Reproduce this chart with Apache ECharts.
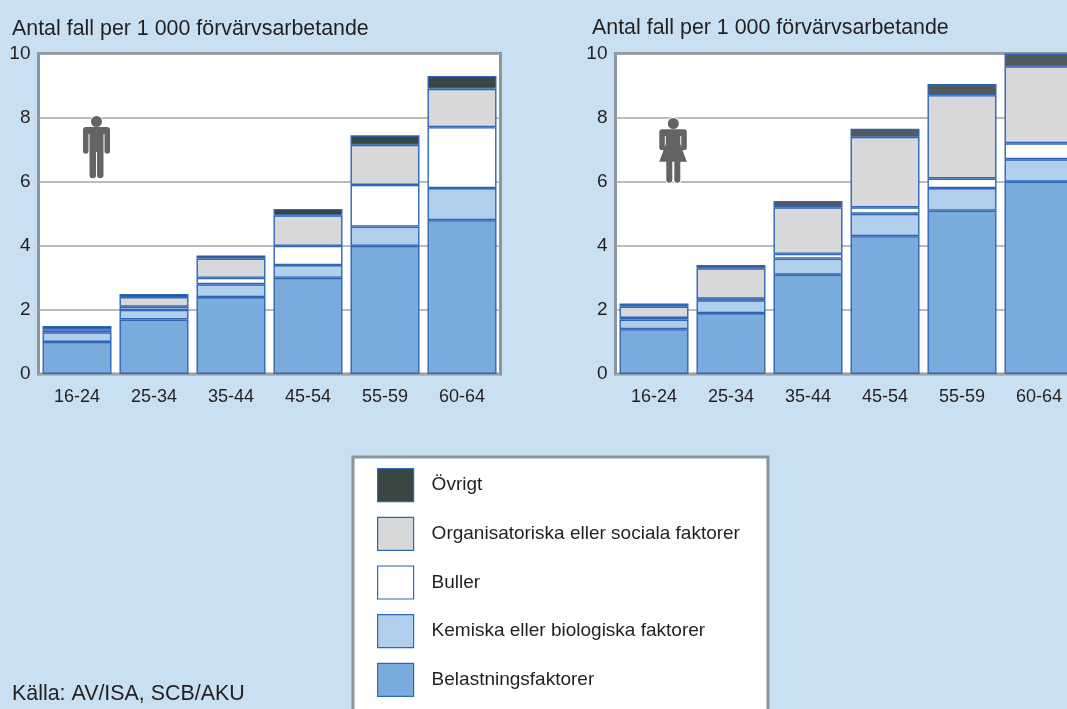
<!DOCTYPE html>
<html>
<head>
<meta charset="utf-8">
<title>Antal fall per 1 000 förvärvsarbetande</title>
<script src="https://cdn.jsdelivr.net/npm/echarts@6/dist/echarts.min.js"></script>
<style>
  html, body { margin: 0; padding: 0; background: #c9dff2; overflow: hidden; }
  #chart { width: 1067px; height: 709px; }
</style>
</head>
<body>
<div id="chart"></div>
<script>
const ageGroups = ['16-24', '25-34', '35-44', '45-54', '55-59', '60-64']
const yTicks = [0, 2, 4, 6, 8, 10]
const yAxisTitle = 'Antal fall per 1 000 förvärvsarbetande'
const sourceText = 'Källa: AV/ISA, SCB/AKU'

const seriesNames = ['Belastningsfaktorer', 'Kemiska eller biologiska faktorer', 'Buller', 'Organisatoriska eller sociala faktorer', 'Övrigt']

const menBelastning = [1.0, 1.7, 2.4, 3.0, 4.0, 4.8]
const menKemiska = [0.3, 0.3, 0.4, 0.4, 0.6, 1.0]
const menBuller = [0.05, 0.1, 0.2, 0.6, 1.3, 1.9]
const menOrganisatoriska = [0.05, 0.3, 0.6, 0.95, 1.25, 1.2]
const menOvrigt = [0.1, 0.1, 0.1, 0.2, 0.3, 0.4]

const womenBelastning = [1.4, 1.9, 3.1, 4.3, 5.1, 6.0]
const womenKemiska = [0.3, 0.4, 0.5, 0.7, 0.7, 0.7]
const womenBuller = [0.05, 0.05, 0.15, 0.2, 0.3, 0.5]
const womenOrganisatoriska = [0.35, 0.95, 1.45, 2.2, 2.6, 2.4]
const womenOvrigt = [0.1, 0.1, 0.2, 0.25, 0.35, 0.4]

const menColors = ['#79abdc', '#b0cfec', '#ffffff', '#d7d8da', '#3a4644']
const womenColors = ['#79abdc', '#b0cfec', '#ffffff', '#d7d8da', '#54595b']
const textColor = '#231f20'
const fontFamily = '"Liberation Sans", Arial, sans-serif'

// pictograms for the two panels
echarts.graphic.registerShape('manIcon', echarts.graphic.extendPath('M13.5 0a5.500 5.500 0 1 1 0 11a5.500 5.500 0 1 1 0 -11z M3 11H24a3 3 0 0 1 3 3V35a2.750 2.750 0 0 1 -5.500 0V18H20.500V59a3.250 3.250 0 0 1 -6.500 0V36H13V59a3.250 3.250 0 0 1 -6.500 0V18H5.500V35a2.750 2.750 0 0 1 -5.500 0V14a3 3 0 0 1 3 -3z'))
echarts.graphic.registerShape('womanIcon', echarts.graphic.extendPath('M14 0a5.500 5.500 0 1 1 0 11a5.500 5.500 0 1 1 0 -11z M3 11.300H24.500a3 3 0 0 1 3 3V29.500a2.750 2.750 0 0 1 -5.500 0V18H21V26L27.500 43.700H21V61.700a3 3 0 0 1 -6 0V43.700H13V61.700a3 3 0 0 1 -6 0V43.700H0L6.500 26V18H5.500V29.500a2.750 2.750 0 0 1 -5.500 0V14.300a3 3 0 0 1 3 -3z'))

const makeSeries = (rows, colors, index) => rows.map((row, i) => ({
  name: seriesNames[i],
  type: 'bar',
  stack: 'panel' + index,
  xAxisIndex: index,
  yAxisIndex: index,
  barWidth: 69,
  data: row,
  itemStyle: { color: colors[i], borderColor: '#2f66b5', borderWidth: 1.4 }
}))

const makeXAxis = (index) => ({
  type: 'category',
  gridIndex: index,
  data: ageGroups,
  axisLine: { show: false },
  axisTick: { show: false },
  axisLabel: { color: textColor, fontSize: 18, fontFamily, margin: 14 }
})

const makeYAxis = (index) => ({
  type: 'value',
  gridIndex: index,
  min: yTicks[0],
  max: yTicks[yTicks.length - 1],
  interval: 2,
  axisLine: { show: false },
  axisTick: { show: false },
  axisLabel: { color: textColor, fontSize: 19, fontFamily, margin: 8 },
  splitLine: { lineStyle: { color: '#a3a5a7', width: 1.5 } }
})

const gridBase = {
  show: true,
  outerBoundsMode: 'none',
  top: 53.5,
  height: 320.5,
  width: 462,
  backgroundColor: '#ffffff',
  borderColor: '#8b959b',
  borderWidth: 3
}
const titleStyle = { color: textColor, fontSize: 21.4, fontWeight: 'normal', fontFamily }

const chart = echarts.init(document.getElementById('chart'), null, { renderer: 'canvas' })
chart.setOption({
  animation: false,
  backgroundColor: '#c9dff2',
  textStyle: { fontFamily },
  title: [
    { text: yAxisTitle, left: 7, top: 14, textStyle: titleStyle },
    { text: yAxisTitle, left: 587, top: 13, textStyle: titleStyle },
    { text: sourceText, left: 7, top: 679, textStyle: titleStyle }
  ],
  grid: [
    { ...gridBase, left: 38.5 },
    { ...gridBase, left: 615.5 }
  ],
  xAxis: [makeXAxis(0), makeXAxis(1)],
  yAxis: [makeYAxis(0), makeYAxis(1)],
  legend: {
    orient: 'vertical',
    left: 353,
    top: 457,
    height: 290,
    width: 360,
    padding: [11, 28, 40, 24],
    backgroundColor: '#ffffff',
    borderColor: '#8b959b',
    borderWidth: 3,
    borderRadius: 0,
    selectedMode: false,
    icon: 'rect',
    itemWidth: 36,
    itemHeight: 33,
    itemGap: 14.5,
    itemStyle: { borderWidth: 1.2 },
    data: seriesNames.slice().reverse(),
    textStyle: { color: textColor, fontSize: 19, fontFamily, padding: [0, 0, 0, 13] }
  },
  series: [
    ...makeSeries([menBelastning, menKemiska, menBuller, menOrganisatoriska, menOvrigt], menColors, 0),
    ...makeSeries([womenBelastning, womenKemiska, womenBuller, womenOrganisatoriska, womenOvrigt], womenColors, 1)
  ],
  graphic: [
    { type: 'manIcon', x: 83, y: 116, z: 20, style: { fill: '#636466', stroke: '#ffffff', lineWidth: 2, strokeFirst: true } },
    { type: 'womanIcon', x: 659.3, y: 118, z: 20, style: { fill: '#636466', stroke: '#ffffff', lineWidth: 2, strokeFirst: true } }
  ]
})
</script>
</body>
</html>
